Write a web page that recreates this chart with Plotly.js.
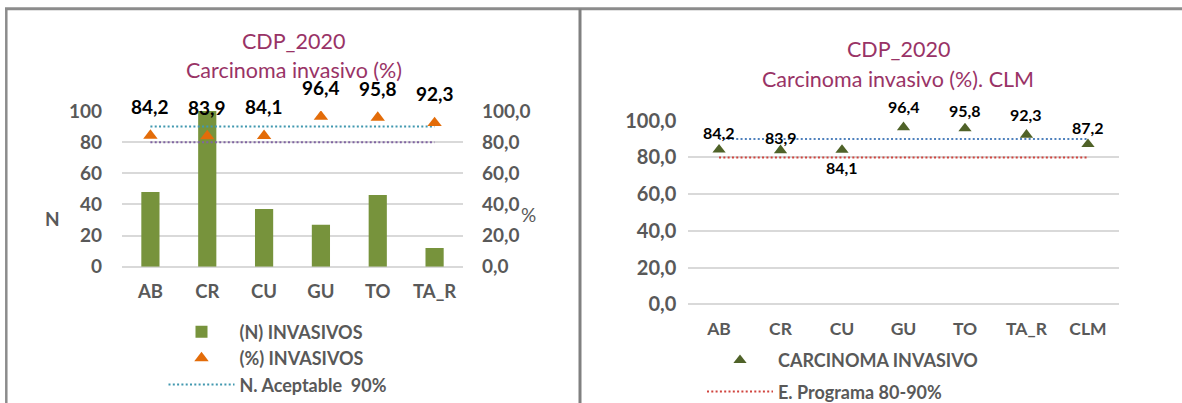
<!DOCTYPE html>
<html><head><meta charset="utf-8">
<script src="https://cdn.plot.ly/plotly-3.0.1.min.js"></script>
<style>html,body{margin:0;padding:0;background:#fff}#chart{width:1182px;height:403px}</style>
</head><body><div id="chart"></div>
<script>
// ---- data ----
const provincias = ['AB','CR','CU','GU','TO','TA_R'];
const nInvasivos = [48,100,37,27,46,12];
const pctInvasivos = [84.2,83.9,84.1,96.4,95.8,92.3];
const categoriasCLM = ['AB','CR','CU','GU','TO','TA_R','CLM'];
const pctCLM = [84.2,83.9,84.1,96.4,95.8,92.3,87.2];
const nivelAceptable = 90;
const estandarPrograma = 80;
const yTicks = [0,20,40,60,80,100];

// ---- helpers / styles ----
const W = 1182, H = 403;
const fx = p => p / W;
const fy = p => 1 - p / H;
const fmt = v => v.toFixed(1).replace('.', ',');
const FONT = 'Lato, "Open Sans", sans-serif';
const GRAY = '#595959';
const TITLE = '#993366';
const leftShift = [29,29,29,29,29,29];
const rightShift = [17,13,-18,21,18,20,17];

const traces = [
  {type:'bar', x:provincias, y:nInvasivos, xaxis:'x', yaxis:'y', width:0.32,
   marker:{color:'#77933c'}, name:'(N) INVASIVOS', legend:'legend', legendgroup:'a', legendrank:1, hoverinfo:'skip'},
  {type:'scatter', mode:'lines', x:provincias, y:provincias.map(()=>nivelAceptable), xaxis:'x', yaxis:'y2',
   line:{color:'#4198af', width:2, dash:'2px,2.3px'}, name:'N. Aceptable\u00a0 90%', legend:'legend', legendgroup:'c', legendrank:3, hoverinfo:'skip'},
  {type:'scatter', mode:'lines', x:provincias, y:provincias.map(()=>estandarPrograma), xaxis:'x', yaxis:'y2',
   line:{color:'#8064a2', width:2, dash:'2px,2.3px'}, name:'E. Programa 80%', showlegend:false, hoverinfo:'skip'},
  {type:'scatter', mode:'markers', x:provincias, y:pctInvasivos, xaxis:'x', yaxis:'y2',
   marker:{symbol:'triangle-up', size:12.5, color:'#e36c09'}, name:'(%) INVASIVOS', legend:'legend', legendgroup:'b', legendrank:2, hoverinfo:'skip'},

  {type:'scatter', mode:'lines', x:categoriasCLM, y:categoriasCLM.map(()=>nivelAceptable), xaxis:'x2', yaxis:'y3',
   line:{color:'#4f81bd', width:2, dash:'2px,2.3px'}, name:'N. Aceptable 90%', showlegend:false, hoverinfo:'skip'},
  {type:'scatter', mode:'lines', x:categoriasCLM, y:categoriasCLM.map(()=>estandarPrograma), xaxis:'x2', yaxis:'y3',
   line:{color:'#d0443e', width:2, dash:'2px,2.3px'}, name:'E. Programa 80-90%', legend:'legend2', legendgroup:'e', legendrank:2, hoverinfo:'skip'},
  {type:'scatter', mode:'markers', x:categoriasCLM, y:pctCLM, xaxis:'x2', yaxis:'y3',
   marker:{symbol:'triangle-up', size:11.5, color:'#4f6228'}, name:'CARCINOMA INVASIVO', legend:'legend2', legendgroup:'d', legendrank:1, hoverinfo:'skip'}
];

const gridStyle = {gridcolor:'#d9d9d9', gridwidth:2, zeroline:true, zerolinecolor:'#d9d9d9', zerolinewidth:2, showline:false, ticks:''};
const bold = (size, color) => ({family:FONT, size:size, color:color || GRAY, weight:'bold'});

const annotations = [];
provincias.forEach((c,i)=>annotations.push({x:c, y:pctInvasivos[i], xref:'x', yref:'y2', text:fmt(pctInvasivos[i]),
  showarrow:false, yshift:leftShift[i], font:bold(19,'#000')}));
categoriasCLM.forEach((c,i)=>annotations.push({x:c, y:pctCLM[i], xref:'x2', yref:'y3', text:fmt(pctCLM[i]),
  showarrow:false, yshift:rightShift[i], font:bold(16,'#000')}));
const titleFont = {family:FONT, size:21.5, color:TITLE};
const paperText = (x, y, text, font) => ({xref:'paper', yref:'paper', x:fx(x), y:fy(y), text:text, showarrow:false, font:font, xanchor:'center', yanchor:'middle'});
annotations.push(paperText(293.6, 40.7, 'CDP_2020', titleFont));
annotations.push(paperText(293.6, 70, 'Carcinoma invasivo (%)', titleFont));
annotations.push(paperText(898, 49.3, 'CDP_2020', titleFont));
annotations.push(paperText(898, 79.3, 'Carcinoma invasivo (%). CLM', titleFont));
// axis titles (horizontal, as in the reference)
annotations.push(paperText(52, 218, 'N', bold(19)));
annotations.push(paperText(528, 214, '%', {family:FONT, size:19, color:GRAY}));

const layout = {
  width:W, height:H, margin:{l:0,r:0,t:0,b:0, autoexpand:false}, paper_bgcolor:'#fff', plot_bgcolor:'rgba(0,0,0,0)',
  separators:',.', showlegend:true, font:{family:FONT},
  xaxis:{domain:[fx(122),fx(463)], anchor:'y', type:'category', range:[-0.5,5.5], showgrid:false, zeroline:false, showline:false, ticks:'',
         tickfont:bold(18.5), ticklabelstandoff:12},
  yaxis:Object.assign({domain:[fy(266.7),fy(111)], anchor:'x', range:[0,100], tickvals:yTicks, tickformat:'d',
         tickfont:bold(19), ticklabelstandoff:19}, gridStyle),
  yaxis2:{overlaying:'y', side:'right', anchor:'x', range:[0,100], tickvals:yTicks, tickformat:'.1f', showgrid:false, zeroline:false, showline:false, ticks:'',
         tickfont:bold(19), ticklabelstandoff:18},
  xaxis2:{domain:[fx(688.3),fx(1118.7)], anchor:'y3', type:'category', range:[-0.5,6.5], showgrid:false, zeroline:false, showline:false, ticks:'',
         tickfont:bold(17.5), ticklabelstandoff:12},
  yaxis3:Object.assign({domain:[fy(304.3),fy(120.7)], anchor:'x2', range:[0,100], tickvals:yTicks, tickformat:'.1f',
         tickfont:bold(20), ticklabelstandoff:11}, gridStyle),
  legend:{x:fx(163.5), y:fy(313.5), xanchor:'left', yanchor:'top', bgcolor:'rgba(0,0,0,0)', traceorder:'grouped', tracegroupgap:0,
          itemwidth:66, font:bold(18)},
  legend2:{x:fx(702), y:fy(342), xanchor:'left', yanchor:'top', bgcolor:'rgba(0,0,0,0)', traceorder:'grouped', tracegroupgap:5,
          itemwidth:66, font:bold(18)},
  annotations:annotations,
  shapes:[
    {type:'line', xref:'paper', yref:'paper', x0:fx(5), x1:1, y0:fy(8.8), y1:fy(8.8), line:{color:'#8c8c8c', width:3}},
    {type:'line', xref:'paper', yref:'paper', x0:fx(6.3), x1:fx(6.3), y0:fy(8.8), y1:0, line:{color:'#8c8c8c', width:2.5}},
    {type:'line', xref:'paper', yref:'paper', x0:fx(580), x1:fx(580), y0:fy(8.8), y1:0, line:{color:'#808080', width:3}}
  ]
};

Plotly.newPlot('chart', traces, layout, {staticPlot:true, displayModeBar:false});
</script>
</body></html>
